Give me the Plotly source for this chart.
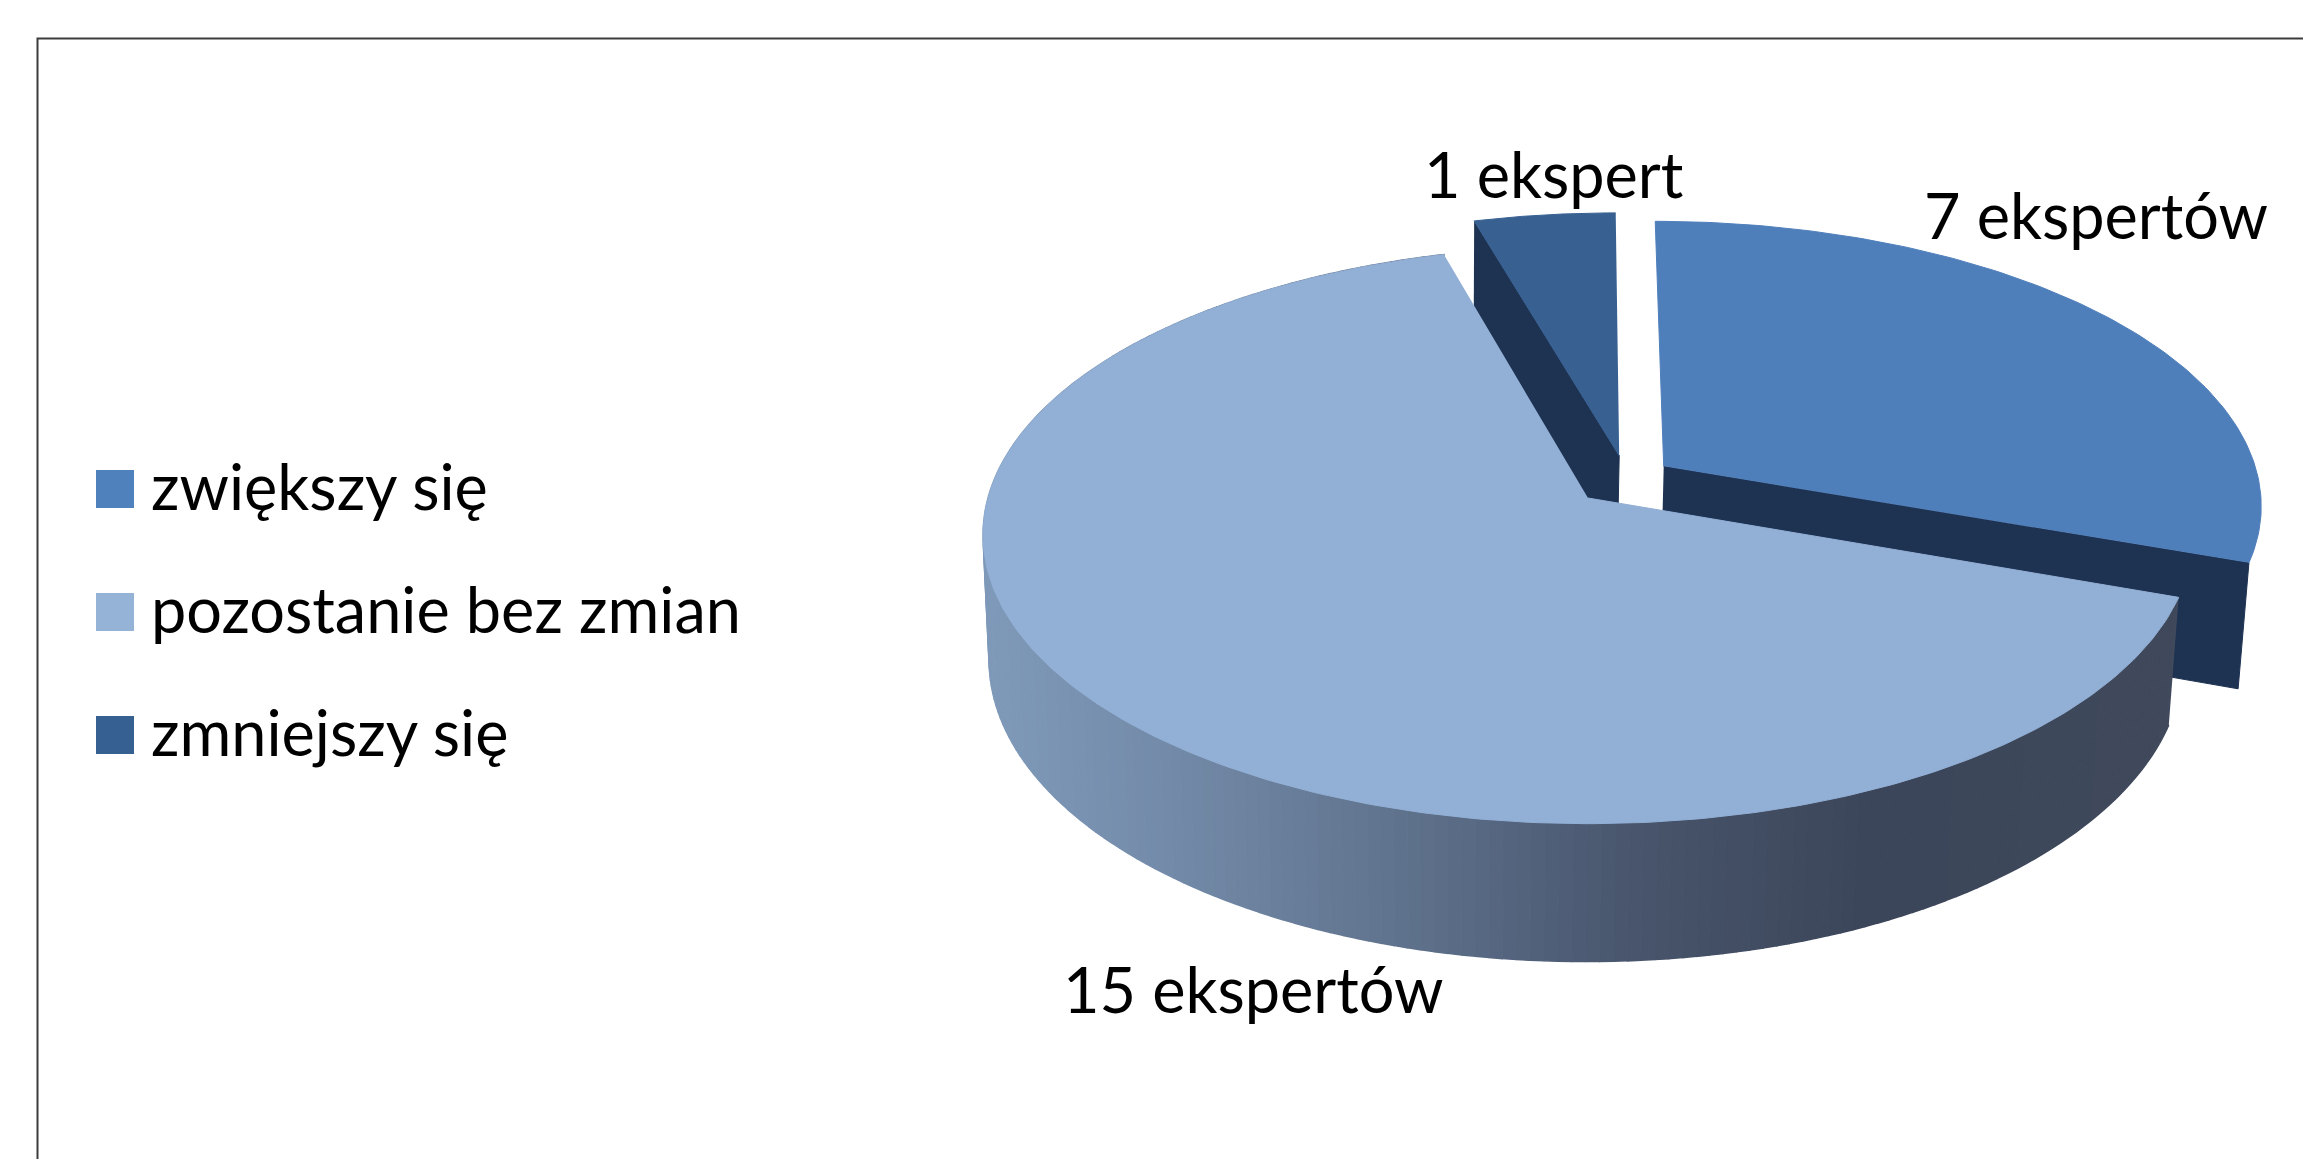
import numpy as np
import plotly.graph_objects as go

categories = ["zwiększy się", "pozostanie bez zmian", "zmniejszy się"]
values = [7, 15, 1]
data_labels = ["7 ekspertów", "15 ekspertów", "1 ekspert"]
top_colors = ["#4F7FBB", "#92AFD5", "#386192"]
legend_colors = ["#4F81BD", "#95B3D7", "#366092"]
dark_side = "#1E3252"

W, H = 2303, 1159
FONT = "Lato"
# Perspective projection of the pie's plane
K = 0.128
TOP = dict(ax=1588, ay=498, A=600, B=284)
BOT = dict(ax=1586, ay=621, A=592, B=297)
# Exploded offset of each slice, in units of the pie radius
offsets = [(0.128, -0.113), (0.0, 0.0), (0.053, -0.152)]


def project(u, v, p):
    d = 1 - K * v
    return p["ax"] + p["A"] * u / d, p["ay"] + p["B"] * v / d


def rim(a0, a1, off, p, n=120):
    t = np.radians(np.linspace(a0, a1, n))
    return project(np.sin(t) + off[0], -np.cos(t) + off[1], p)


def poly(x, y, color, width=1):
    return go.Scatter(
        x=list(x), y=list(y), mode="lines", fill="toself", fillcolor=color,
        line=dict(color=color, width=width), hoverinfo="skip", showlegend=False,
    )


total = sum(values)
ends = np.cumsum(values) / total * 360
starts = np.concatenate([[0], ends[:-1]])
fig = go.Figure()

# Small slice (drawn first: furthest back)
i = 2
ax0, ay0 = project(*offsets[i], TOP)
bx0, by0 = project(*offsets[i], BOT)
ex, ey = rim(starts[i], ends[i], offsets[i], TOP)
lx, ly = rim(starts[i], ends[i], offsets[i], BOT)
fig.add_trace(poly([ex[0], ax0, bx0, lx[0]], [ey[0], ay0, by0, ly[0]], dark_side))
fig.add_trace(poly([ax0, *ex], [ay0, *ey], top_colors[i]))

# Large exploded slice
i = 0
ax0, ay0 = project(*offsets[i], TOP)
bx0, by0 = project(*offsets[i], BOT)
ex, ey = rim(starts[i], ends[i], offsets[i], TOP)
lx, ly = rim(starts[i], ends[i], offsets[i], BOT)
fig.add_trace(poly([ax0, ex[-1], lx[-1], bx0], [ay0, ey[-1], ly[-1], by0], dark_side))
fig.add_trace(poly([ax0, *ex], [ay0, *ey], top_colors[i]))

# Main slice: shaded rim as narrow strips, then its top
i = 1
grad_pos = [0.0, 0.15, 0.35, 0.55, 0.75, 1.0]
grad_r = [128, 116, 96, 72, 60, 64]
grad_g = [154, 140, 115, 85, 70, 74]
grad_b = [186, 170, 142, 108, 90, 92]
edges = np.linspace(starts[i], ends[i], 201)
for a0, a1 in zip(edges[:-1], edges[1:]):
    ux, uy = rim(a0, a1, offsets[i], TOP, n=3)
    dx, dy = rim(a0, a1, offsets[i], BOT, n=3)
    f = (ux[1] - 980) / (2177 - 980)
    col = "rgb(%d,%d,%d)" % (
        np.interp(f, grad_pos, grad_r),
        np.interp(f, grad_pos, grad_g),
        np.interp(f, grad_pos, grad_b),
    )
    fig.add_trace(poly([*ux, *dx[::-1]], [*uy, *dy[::-1]], col, width=1.5))
ax0, ay0 = project(*offsets[i], TOP)
ex, ey = rim(starts[i], ends[i], offsets[i], TOP, n=300)
fig.add_trace(poly([ax0, *ex], [ay0, *ey], top_colors[i]))

shapes = [dict(type="rect", xref="x", yref="y", x0=37.5, y0=38.5, x1=W + 20, y1=H + 20,
               line=dict(color="#3C3C3C", width=2), fillcolor="rgba(0,0,0,0)", layer="below")]
annotations = []
legend_rows = [489, 612, 735]
for name, col, yc in zip(categories, legend_colors, legend_rows):
    shapes.append(dict(type="rect", xref="x", yref="y", x0=96, x1=134, y0=yc - 19, y1=yc + 19,
                       fillcolor=col, line=dict(width=0)))
    annotations.append(dict(x=149, y=yc - 4, xref="x", yref="y", text=name, showarrow=False,
                            xanchor="left", yanchor="middle", font=dict(family=FONT, size=63, color="#000000")))

label_pos = [(2096, 214), (1253, 988), (1553, 173)]
for txt, (x, y) in zip(data_labels, label_pos):
    annotations.append(dict(x=x, y=y, xref="x", yref="y", text=txt, showarrow=False,
                            xanchor="center", yanchor="middle", font=dict(family=FONT, size=63, color="#000000")))

fig.update_layout(
    width=W, height=H, margin=dict(l=0, r=0, t=0, b=0), autosize=False,
    paper_bgcolor="white", plot_bgcolor="white", showlegend=False,
    xaxis=dict(range=[0, W], visible=False, fixedrange=True),
    yaxis=dict(range=[H, 0], visible=False, fixedrange=True),
    shapes=shapes, annotations=annotations,
)
fig.write_html("out.html", config=dict(displayModeBar=False),
               post_script="document.body.style.margin='0';document.body.style.overflow='hidden';")
